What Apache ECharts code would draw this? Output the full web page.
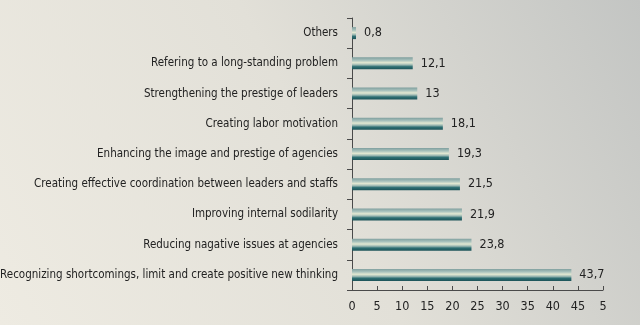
<!DOCTYPE html>
<html><head><meta charset="utf-8">
<script src="https://cdn.jsdelivr.net/npm/echarts@6/dist/echarts.min.js"></script>
<style>html,body{margin:0;padding:0;}#c{width:640px;height:325px;}</style>
</head><body><div id="c"></div>
<script>
const categories = [
  'Recognizing shortcomings, limit and create positive new thinking',
  'Reducing nagative issues at agencies',
  'Improving internal sodilarity',
  'Creating effective coordination between leaders and staffs',
  'Enhancing the image and prestige of agencies',
  'Creating labor motivation',
  'Strengthening the prestige of leaders',
  'Refering to a long-standing problem',
  'Others'
];
const values = [43.7, 23.8, 21.9, 21.5, 19.3, 18.1, 13, 12.1, 0.8];
const valueLabels = ['43,7','23,8','21,9','21,5','19,3','18,1','13','12,1','0,8'];
const tickLabels = {0:'0',5:'5',10:'10',15:'15',20:'20',25:'25',30:'30',35:'35',40:'40',45:'45',50:'5'};

const font = '"Liberation Sans Narrow","DejaVu Sans Condensed","Open Sans",sans-serif';
const chart = echarts.init(document.getElementById('c'));
chart.setOption({
  backgroundColor: new echarts.graphic.LinearGradient(0, 1, 1, 0, [
    {offset: 0, color: '#eeebe2'},
    {offset: 0.5, color: '#e2e0d8'},
    {offset: 1, color: '#c3c5c3'}
  ]),
  animation: false,
  grid: {left: 352, right: 37, top: 18, bottom: 35, containLabel: false, outerBoundsMode: 'none'},
  xAxis: {
    type: 'value', min: 0, max: 50, interval: 5,
    axisLine: {show: true, lineStyle: {color: '#4a4a4a', width: 1}},
    axisTick: {show: true, inside: true, length: 4, lineStyle: {color: '#4a4a4a'}},
    splitLine: {show: false},
    axisLabel: {margin: 10, color: '#222', fontSize: 12.5, fontFamily: font,
      formatter: v => tickLabels[v]}
  },
  yAxis: {
    type: 'category', data: categories,
    axisLine: {show: true, lineStyle: {color: '#4a4a4a', width: 1}},
    axisTick: {show: true, length: 5, lineStyle: {color: '#4a4a4a'}},
    axisLabel: {margin: 14, color: '#222', fontSize: 11.5, fontFamily: font}
  },
  series: [{
    type: 'bar', data: values, barWidth: 12,
    itemStyle: {
      color: new echarts.graphic.LinearGradient(0, 0, 0, 1, [
        {offset: 0, color: '#7f9f9e'},
        {offset: 0.25, color: '#a9c2bd'},
        {offset: 0.45, color: '#e3e8d2'},
        {offset: 0.62, color: '#9fbab4'},
        {offset: 0.78, color: '#2e6f73'},
        {offset: 1, color: '#1d5459'}
      ])
    },
    label: {show: true, position: 'right', distance: 8, color: '#222', fontSize: 12.5, fontFamily: font,
      formatter: p => valueLabels[p.dataIndex]}
  }]
});
</script></body></html>
